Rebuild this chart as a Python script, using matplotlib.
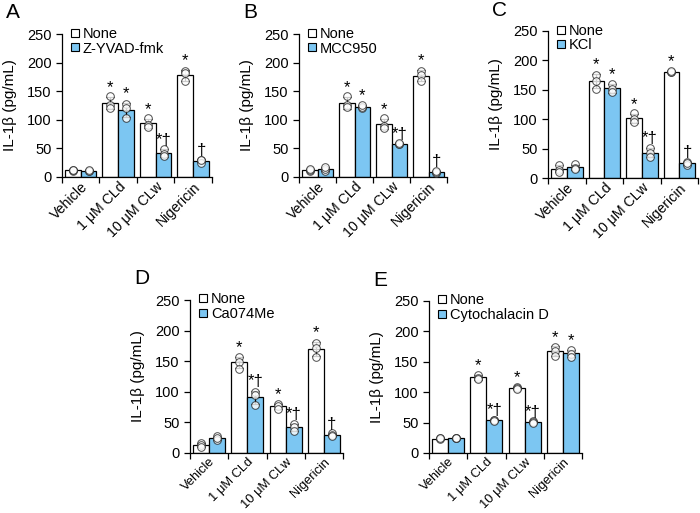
import numpy as np
import matplotlib
matplotlib.use("Agg")
import matplotlib.pyplot as plt
from matplotlib.lines import Line2D

plt.rcParams["font.family"] = ["Liberation Sans", "DejaVu Sans"]

# ---------------------------------------------------------------------------
# Data
# ---------------------------------------------------------------------------
categories = ["Vehicle", "1 \u03bcM CLd", "10 \u03bcM CLw", "Nigericin"]
panel_letters = ["A", "B", "C", "D", "E"]
inhibitors = ["Z-YVAD-fmk", "MCC950", "KCl", "Ca074Me", "Cytochalacin D"]

# triplicate points per bar: [category][replicate]
none_pts_A = [[10, 12, 13], [141, 126, 120], [103, 91, 87], [186, 181, 167]]
inh_pts_A = [[10, 11, 12], [127, 120, 104], [49, 41, 36], [30, 25, 29]]

none_pts_B = [[10, 12, 14], [141, 126, 122], [103, 90, 86], [186, 179, 167]]
inh_pts_B = [[10, 14, 18], [120, 123, 126], [57, 58, 59], [7, 9, 11]]

none_pts_C = [[22, 14, 11], [176, 165, 152], [110, 100, 95], [181, 180, 182]]
inh_pts_C = [[23, 17, 15], [160, 151, 146], [51, 43, 35], [27, 22, 25]]

none_pts_D = [[16, 13, 10], [157, 149, 138], [80, 76, 72], [180, 171, 157]]
inh_pts_D = [[27, 22, 24], [100, 94, 79], [48, 42, 36], [32, 29, 28]]

none_pts_E = [[24, 23, 24], [128, 124, 121], [109, 107, 105], [175, 168, 160]]
inh_pts_E = [[24, 25, 24], [55, 54, 53], [52, 51, 50], [170, 163, 158]]

# significance marks above each bar
none_marks = ["", "*", "*", "*"]
inh_marks_A = ["", "*", "*\u2020", "\u2020"]
inh_marks_B = ["", "*", "*\u2020", "\u2020"]
inh_marks_C = ["", "*", "*\u2020", "\u2020"]
inh_marks_D = ["", "*\u2020", "*\u2020", "\u2020"]
inh_marks_E = ["", "*\u2020", "*\u2020", "*"]

none_all = [none_pts_A, none_pts_B, none_pts_C, none_pts_D, none_pts_E]
inh_all = [inh_pts_A, inh_pts_B, inh_pts_C, inh_pts_D, inh_pts_E]
inh_marks_all = [inh_marks_A, inh_marks_B, inh_marks_C, inh_marks_D, inh_marks_E]

yticks = [0, 50, 100, 150, 200, 250]

BLUE = "#7cc6f2"

# axes rectangles in pixels: left, top, right, bottom
W, H = 700, 513
boxes = [
    (62, 34, 212, 177),
    (299, 34, 447, 177),
    (548, 31, 698, 178),
    (190, 300, 343, 453),
    (429, 301, 582, 453),
]
# bottom row labels a touch smaller so they stay inside the canvas
xlabel_sizes = [10.2, 10.2, 10.2, 9.3, 9.3]


def draw_group(ax, x, pts, color, marks):
    pts = np.asarray(pts, dtype=float)
    mean = pts.mean()
    sd = pts.std(ddof=1)
    ax.bar(x, mean, width=0.42, color=color, edgecolor="black",
           linewidth=0.9, zorder=2)
    ax.errorbar(x, mean, yerr=sd, fmt="none", ecolor="black",
                elinewidth=0.9, capsize=3.2, capthick=0.9, zorder=3)
    ax.plot(np.full(len(pts), x), pts, "o", ms=5.5, mfc="white",
            mec="#222222", mew=0.7, alpha=0.8, zorder=4)
    if marks:
        ax.text(x, mean + sd + 3, marks, ha="center", va="bottom",
                fontsize=12, zorder=5)


fig = plt.figure(figsize=(7.0, 5.13), dpi=100)

for i, (l, t, r, b) in enumerate(boxes):
    ax = fig.add_axes([l / W, (H - b) / H, (r - l) / W, (b - t) / H])
    xs = np.arange(len(categories))
    for j in xs:
        draw_group(ax, j - 0.21, none_all[i][j], "white", none_marks[j])
        draw_group(ax, j + 0.21, inh_all[i][j], BLUE, inh_marks_all[i][j])

    ax.set_xlim(-0.5, len(categories) - 0.5)
    ax.set_ylim(0, 250)
    ax.set_yticks(yticks)
    ax.tick_params(axis="y", labelsize=10.5, length=4, width=0.9)
    ax.set_xticks(xs)
    ax.set_xticklabels(categories, rotation=45, ha="right",
                       rotation_mode="anchor", fontsize=xlabel_sizes[i])
    ax.tick_params(axis="x", which="major", length=0, pad=2)
    ax.set_xticks(np.arange(-0.5, len(categories)), minor=True)
    ax.tick_params(axis="x", which="minor", length=4, width=0.9)
    for side in ("top", "right"):
        ax.spines[side].set_visible(False)
    for side in ("left", "bottom"):
        ax.spines[side].set_linewidth(0.9)
    ax.set_ylabel("IL-1\u03b2 (pg/mL)", fontsize=11, labelpad=7)

    handles = [
        Line2D([], [], marker="s", ls="none", ms=5.5, mfc="white", mec="black", mew=0.8),
        Line2D([], [], marker="s", ls="none", ms=5.5, mfc=BLUE, mec="black", mew=0.8),
    ]
    ax.legend(handles, ["None", inhibitors[i]], loc="upper left",
              bbox_to_anchor=(0.055, 1.05), frameon=False, fontsize=10.5,
              handlelength=0.6, handletextpad=0.25, labelspacing=0.05,
              borderpad=0, borderaxespad=0)

    fig.text((l - 56) / W, 1 - (t - 21) / H, panel_letters[i],
             fontsize=15, ha="left", va="center")

fig.savefig("out.png", dpi=100)
